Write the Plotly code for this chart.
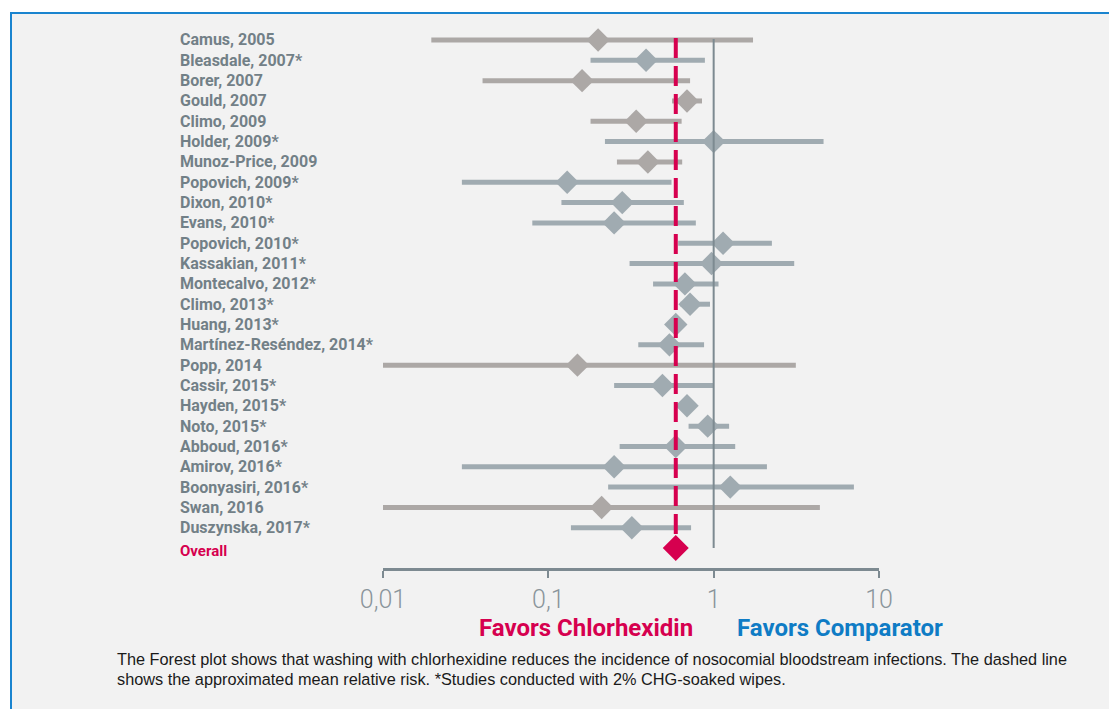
import plotly.graph_objects as go

# ---------------- data ----------------
studies = ["Camus, 2005", "Bleasdale, 2007*", "Borer, 2007", "Gould, 2007", "Climo, 2009",
           "Holder, 2009*", "Munoz-Price, 2009", "Popovich, 2009*", "Dixon, 2010*", "Evans, 2010*",
           "Popovich, 2010*", "Kassakian, 2011*", "Montecalvo, 2012*", "Climo, 2013*", "Huang, 2013*",
           "Martínez-Reséndez, 2014*", "Popp, 2014", "Cassir, 2015*", "Hayden, 2015*", "Noto, 2015*",
           "Abboud, 2016*", "Amirov, 2016*", "Boonyasiri, 2016*", "Swan, 2016", "Duszynska, 2017*"]
rr = [0.20, 0.39, 0.16, 0.69, 0.34, 1.00, 0.40, 0.13, 0.28, 0.25,
      1.14, 0.97, 0.67, 0.72, 0.59, 0.54, 0.15, 0.49, 0.69, 0.92,
      0.59, 0.25, 1.26, 0.21, 0.32]
ci_low = [0.0196, 0.18, 0.040, 0.56, 0.18, 0.22, 0.26, 0.030, 0.12, 0.080,
          0.61, 0.31, 0.43, 0.63, 0.55, 0.35, 0.01, 0.25, 0.63, 0.705,
          0.27, 0.030, 0.23, 0.01, 0.137]
ci_high = [1.73, 0.885, 0.72, 0.85, 0.64, 4.62, 0.645, 0.556, 0.66, 0.78,
           2.25, 3.07, 1.07, 0.95, 0.65, 0.875, 3.14, 0.99, 0.75, 1.24,
           1.35, 2.10, 7.05, 4.39, 0.73]
overall_label = "Overall"
overall_rr = 0.59
null_effect = 1
tick_vals = [0.01, 0.1, 1, 10]
tick_text = ["0,01", "0,1", "1", "10"]
favors_left = "Favors Chlorhexidin"
favors_right = "Favors Comparator"
caption_lines = [
    "The Forest plot shows that washing with chlorhexidine reduces the incidence of nosocomial bloodstream infections. The dashed line",
    "shows the approximated mean relative risk. *Studies conducted with 2% CHG-soaked wipes.",
]

# ---------------- styling ----------------
OFF = 8  # page body margin
W, H = 1117, 709
ML = 383 - OFF
MR = W - (879 - OFF)
MT = 28 - OFF
MB = H - (568 - OFF)
PW, PH = W - ML - MR, H - MT - MB
WARM = "#aca8a6"
COOL = "#a0abb1"
RED = "#d6004f"
BLUE = "#0f7cc5"
AXIS = "#7d8a91"
LABEL = "#728087"


def px_x(px):
    return (px - OFF - ML) / PW


def px_y(py):
    return (H - MB - (py - OFF)) / PH


fig = go.Figure()

rows = list(range(len(studies)))
for starred, color in [(False, WARM), (True, COOL)]:
    idx = [i for i in rows if studies[i].endswith("*") == starred]
    fig.add_trace(go.Scatter(
        x=[rr[i] for i in idx],
        y=idx,
        mode="markers",
        marker=dict(symbol="diamond", size=18, color=color, line=dict(width=0)),
        error_x=dict(type="data", symmetric=False,
                     array=[ci_high[i] - rr[i] for i in idx],
                     arrayminus=[rr[i] - ci_low[i] for i in idx],
                     color=color, thickness=5, width=0),
        hoverinfo="skip", showlegend=False,
    ))

overall_row = len(studies)
fig.add_trace(go.Scatter(
    x=[overall_rr], y=[overall_row], mode="markers",
    marker=dict(symbol="diamond", size=20, color=RED, line=dict(width=0)),
    hoverinfo="skip", showlegend=False,
))

# reference lines
fig.add_shape(type="line", xref="x", yref="y", x0=null_effect, x1=null_effect,
              y0=-0.05, y1=overall_row, line=dict(color=AXIS, width=2), layer="above")
fig.add_shape(type="line", xref="x", yref="y", x0=overall_rr, x1=overall_rr,
              y0=-0.1, y1=overall_row - 0.5, line=dict(color=RED, width=4, dash="20px,8px"),
              layer="above")

# background frame
fig.add_shape(type="rect", xref="paper", yref="paper",
              x0=px_x(11), x1=px_x(1112), y0=px_y(740), y1=px_y(13),
              fillcolor="#f2f2f2", line=dict(color="#1a84cf", width=2), layer="below")

annotations = []
for i, name in enumerate(studies):
    annotations.append(dict(text=name, xref="paper", yref="y", x=px_x(178), y=i,
                            xanchor="left", yanchor="middle", showarrow=False,
                            font=dict(family="Roboto", size=16, color=LABEL, weight="bold")))
annotations.append(dict(text=overall_label, xref="paper", yref="y", x=px_x(178), y=overall_row + 0.15,
                        xanchor="left", yanchor="middle", showarrow=False,
                        font=dict(family="Roboto", size=15, color=RED, weight="bold")))
annotations.append(dict(text=favors_left, xref="paper", yref="paper", x=px_x(586), y=px_y(628),
                        xanchor="center", yanchor="middle", showarrow=False,
                        font=dict(family="Roboto", size=24, color=RED, weight="bold")))
annotations.append(dict(text=favors_right, xref="paper", yref="paper", x=px_x(840), y=px_y(628),
                        xanchor="center", yanchor="middle", showarrow=False,
                        font=dict(family="Roboto", size=24, color=BLUE, weight="bold")))
for k, line in enumerate(caption_lines):
    annotations.append(dict(text=line, xref="paper", yref="paper", x=px_x(115), y=px_y(659 + 20 * k),
                            xanchor="left", yanchor="middle", showarrow=False,
                            font=dict(family="Liberation Sans, Arial", size=16.3, color="#1a1a1a")))

fig.update_layout(
    width=W, height=H,
    margin=dict(l=ML, r=MR, t=MT, b=MB, autoexpand=False),
    paper_bgcolor="white", plot_bgcolor="rgba(0,0,0,0)",
    annotations=annotations,
    xaxis=dict(type="log", range=[-2, 1], showline=True, linecolor=AXIS, linewidth=3,
               ticks="outside", ticklen=7, tickwidth=2, tickcolor=AXIS,
               tickvals=tick_vals, ticktext=tick_text, showgrid=False, zeroline=False,
               tickfont=dict(family="Roboto", size=25, color="#8a959b", weight=300)),
    yaxis=dict(visible=False, range=[25.98, -0.59]),
)

fig.write_html("out.html")
